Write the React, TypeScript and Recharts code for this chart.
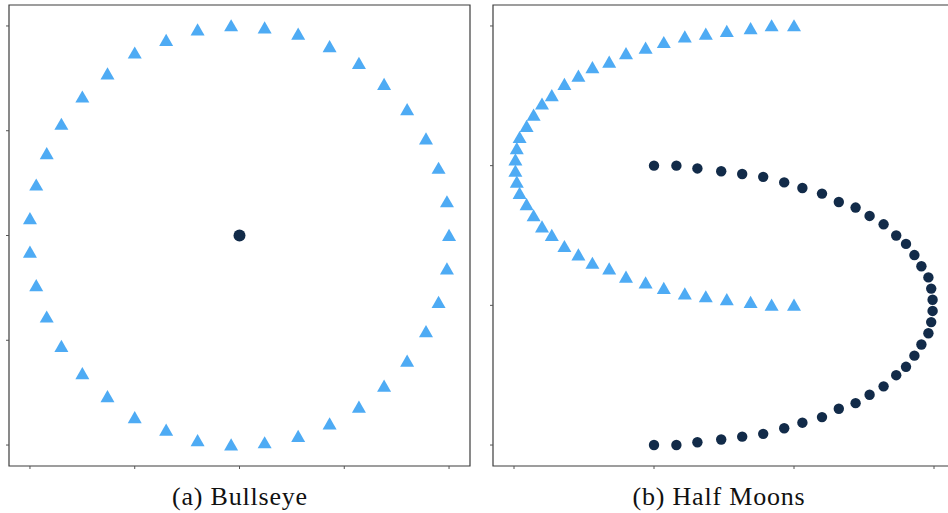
import React from 'react';
import { ScatterChart, Scatter, XAxis, YAxis, ReferenceArea } from 'recharts';

// (a) Bullseye: outer ring (triangles) and single centre point
const ringX = [1.0, 0.99, 0.95, 0.89, 0.8, 0.69, 0.57, 0.43, 0.28, 0.12, -0.04, -0.2, -0.35, -0.5, -0.63, -0.75, -0.85, -0.92, -0.97, -1.0, -1.0, -0.97, -0.92, -0.85, -0.75, -0.63, -0.5, -0.35, -0.2, -0.04, 0.12, 0.28, 0.43, 0.57, 0.69, 0.8, 0.89, 0.95, 0.99];
const ringY = [0.0, 0.16, 0.32, 0.46, 0.6, 0.72, 0.82, 0.9, 0.96, 0.99, 1.0, 0.98, 0.93, 0.87, 0.77, 0.66, 0.53, 0.39, 0.24, 0.08, -0.08, -0.24, -0.39, -0.53, -0.66, -0.77, -0.87, -0.93, -0.98, -1.0, -0.99, -0.96, -0.9, -0.82, -0.72, -0.6, -0.46, -0.32, -0.16];
const centerX = [0.0];
const centerY = [0.0];

// (b) Half Moons
const upperX = [1.0, 0.84, 0.69, 0.52, 0.37, 0.22, 0.07, -0.06, -0.2, -0.32, -0.44, -0.54, -0.64, -0.73, -0.8, -0.86, -0.91, -0.96, -0.98, -0.99, -0.99, -0.98, -0.96, -0.91, -0.86, -0.8, -0.73, -0.64, -0.54, -0.44, -0.32, -0.2, -0.06, 0.07, 0.22, 0.37, 0.52, 0.69, 0.84, 1.0];
const upperY = [1.0, 1.0, 0.99, 0.98, 0.97, 0.96, 0.94, 0.92, 0.9, 0.87, 0.85, 0.82, 0.79, 0.75, 0.72, 0.68, 0.64, 0.6, 0.56, 0.52, 0.48, 0.44, 0.4, 0.36, 0.32, 0.28, 0.25, 0.21, 0.18, 0.15, 0.13, 0.1, 0.08, 0.06, 0.04, 0.03, 0.02, 0.01, 0.0, 0.0];
const lowerX = [0.0, 0.16, 0.31, 0.48, 0.63, 0.78, 0.93, 1.06, 1.2, 1.32, 1.44, 1.54, 1.64, 1.73, 1.8, 1.86, 1.91, 1.96, 1.98, 1.99, 1.99, 1.98, 1.96, 1.91, 1.86, 1.8, 1.73, 1.64, 1.54, 1.44, 1.32, 1.2, 1.06, 0.93, 0.78, 0.63, 0.48, 0.31, 0.16, 0.0];
const lowerY = [0.5, 0.5, 0.49, 0.48, 0.47, 0.46, 0.44, 0.42, 0.4, 0.37, 0.35, 0.32, 0.29, 0.25, 0.22, 0.18, 0.14, 0.1, 0.06, 0.02, -0.02, -0.06, -0.1, -0.14, -0.18, -0.22, -0.25, -0.29, -0.32, -0.35, -0.37, -0.4, -0.42, -0.44, -0.46, -0.47, -0.48, -0.49, -0.5, -0.5];

const bullTicks = [-1, -0.5, 0, 0.5, 1];
const moonXTicks = [-1, 0, 1, 2];
const moonYTicks = [-0.5, 0, 0.5, 1];

const BLUE = '#4eabf4';
const NAVY = '#122b49';
const FRAME = '#3c3c3c';
const TICK = '#555555';

const zip = (xs: number[], ys: number[]) => xs.map((x, i) => ({ x, y: ys[i] }));

const Triangle = (props: any) => {
  const { cx, cy } = props;
  if (cx == null || cy == null) return null;
  return (
    <polygon
      points={`${cx},${cy - 6.8} ${cx - 7},${cy + 5.4} ${cx + 7},${cy + 5.4}`}
      fill={BLUE}
    />
  );
};

const Dot = (r: number) => (props: any) => {
  const { cx, cy } = props;
  if (cx == null || cy == null) return null;
  return <circle cx={cx} cy={cy} r={r} fill={NAVY} />;
};

// tick marks only, no labels
const NoLabel = () => <g />;

const axisProps = {
  type: 'number' as const,
  tick: NoLabel,
  tickSize: 3,
  tickLine: { stroke: TICK, strokeWidth: 1 },
  axisLine: false,
  allowDataOverflow: true,
};

const captionStyle: React.CSSProperties = {
  position: 'absolute',
  top: 482,
  fontFamily: '"Liberation Serif", serif',
  fontSize: 26,
  letterSpacing: 0.8,
  color: '#111',
  textAlign: 'center',
  width: 300,
};

const App: React.FC = () => {
  // axes take 1px each (an axis with zero size is not drawn)
  const margin = { top: 5, right: 10, bottom: 13, left: 8 };
  return (
    <div
      style={{
        position: 'absolute',
        left: 0,
        top: 0,
        width: 948,
        height: 513,
        overflow: 'hidden',
        background: '#fff',
      }}
    >
      {/* (a) Bullseye */}
      <div style={{ position: 'absolute', left: 0, top: 0 }}>
        <ScatterChart width={480} height={480} margin={margin}>
          <XAxis {...axisProps} dataKey="x" domain={[-1.1, 1.1]} ticks={bullTicks} height={1} />
          <YAxis {...axisProps} dataKey="y" domain={[-1.1, 1.1]} ticks={bullTicks} width={1} />
          <ReferenceArea
            x1={-1.1}
            x2={1.1}
            y1={-1.1}
            y2={1.1}
            fill="none"
            stroke={FRAME}
            strokeWidth={1.2}
            ifOverflow="visible"
          />
          <Scatter data={zip(ringX, ringY)} shape={Triangle} isAnimationActive={false} />
          <Scatter data={zip(centerX, centerY)} shape={Dot(6)} isAnimationActive={false} />
        </ScatterChart>
      </div>

      {/* (b) Half Moons */}
      <div style={{ position: 'absolute', left: 484, top: 0 }}>
        <ScatterChart width={480} height={480} margin={{ ...margin, right: 9 }}>
          <XAxis {...axisProps} dataKey="x" domain={[-1.15, 2.15]} ticks={moonXTicks} height={1} />
          <YAxis {...axisProps} dataKey="y" domain={[-0.575, 1.075]} ticks={moonYTicks} width={1} />
          <ReferenceArea
            x1={-1.15}
            x2={2.15}
            y1={-0.575}
            y2={1.075}
            fill="none"
            stroke={FRAME}
            strokeWidth={1.2}
            ifOverflow="visible"
          />
          <Scatter data={zip(upperX, upperY)} shape={Triangle} isAnimationActive={false} />
          <Scatter data={zip(lowerX, lowerY)} shape={Dot(5.2)} isAnimationActive={false} />
        </ScatterChart>
      </div>

      <div style={{ ...captionStyle, left: 90 }}>(a) Bullseye</div>
      <div style={{ ...captionStyle, left: 569 }}>(b) Half Moons</div>
    </div>
  );
};

export default App;
